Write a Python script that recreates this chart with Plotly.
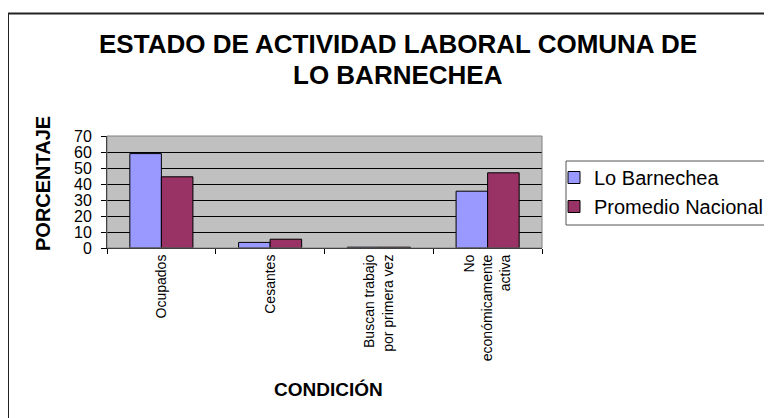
import plotly.graph_objects as go

# data
condiciones = ["Ocupados", "Cesantes", "Buscan trabajo<br>por primera vez",
               "No<br>económicamente<br>activa"]
lo_barnechea = [59, 3.5, 0.5, 35.5]
promedio_nacional = [44.5, 5.5, 0.5, 47]

# the page body adds an 8px margin, so the figure is drawn 8px in from the window
OFF = 8
W, H = 772 - OFF, 418 - OFF
PL, PR, PT, PB = 107, 542, 136, 248   # plot area in window pixels

def px_x(p):
    return (p - PL) / (PR - PL)

def px_y(p):
    return (PB - p) / (PB - PT)

font = "Liberation Sans, Arial, sans-serif"

fig = go.Figure()
fig.add_trace(go.Bar(x=condiciones, y=lo_barnechea, name="Lo Barnechea",
                     marker=dict(color="#9999FF", line=dict(color="black", width=1))))
fig.add_trace(go.Bar(x=condiciones, y=promedio_nacional, name="Promedio Nacional",
                     marker=dict(color="#993366", line=dict(color="black", width=1))))

fig.update_layout(
    width=W, height=H, autosize=False,
    margin=dict(l=PL - OFF, r=772 - PR, t=PT - OFF, b=418 - PB, autoexpand=False),
    paper_bgcolor="white", plot_bgcolor="#C0C0C0",
    font=dict(family=font, color="black"),
    barmode="group", bargap=0.42, bargroupgap=0,
    showlegend=True,
    legend=dict(xref="container", yref="container",
                x=(554 - OFF) / W, y=1 - (158 - OFF) / H,
                xanchor="left", yanchor="top", bgcolor="rgba(0,0,0,0)",
                borderwidth=0, font=dict(size=20, family=font)),
)

fig.update_xaxes(showline=True, linecolor="black", linewidth=1,
                 ticks="outside", tickson="boundaries", ticklen=5, tickcolor="black",
                 tickangle=-90, tickfont=dict(size=14), showgrid=False)
fig.update_yaxes(range=[0, 70], dtick=10, showline=True, linecolor="black", linewidth=1,
                 ticks="outside", ticklen=5, tickcolor="black", ticklabelstandoff=6,
                 tickfont=dict(size=16), showgrid=True, gridcolor="black", gridwidth=1,
                 zeroline=False)

# outer page frame, plot frame and legend frame
fig.add_shape(type="rect", xref="paper", yref="paper",
              x0=px_x(8), x1=px_x(800), y0=px_y(440), y1=px_y(13.5),
              line=dict(color="#222222", width=2), layer="below")
fig.add_shape(type="rect", xref="paper", yref="paper",
              x0=0, x1=1, y0=0, y1=1, line=dict(color="#808080", width=1))
fig.add_shape(type="rect", xref="paper", yref="paper",
              x0=px_x(566), x1=px_x(800), y0=px_y(225), y1=px_y(161),
              line=dict(color="#555555", width=1), fillcolor="white", layer="below")

titulo = ["ESTADO DE ACTIVIDAD LABORAL COMUNA DE", "LO BARNECHEA"]
for linea, yc in zip(titulo, [44, 75]):
    fig.add_annotation(text=linea, xref="paper", yref="paper",
                       x=px_x(398), y=px_y(yc), xanchor="center", yanchor="middle",
                       showarrow=False,
                       font=dict(size=26, family=font, color="black", weight="bold"))
fig.add_annotation(text="PORCENTAJE", textangle=-90,
                   xref="paper", yref="paper", x=px_x(43), y=px_y(184),
                   xanchor="center", yanchor="middle", showarrow=False,
                   font=dict(size=20, family=font, color="black", weight="bold"))
fig.add_annotation(text="CONDICIÓN",
                   xref="paper", yref="paper", x=px_x(328), y=px_y(389),
                   xanchor="center", yanchor="middle", showarrow=False,
                   font=dict(size=19, family=font, color="black", weight="bold"))

fig.write_html("out.html")
